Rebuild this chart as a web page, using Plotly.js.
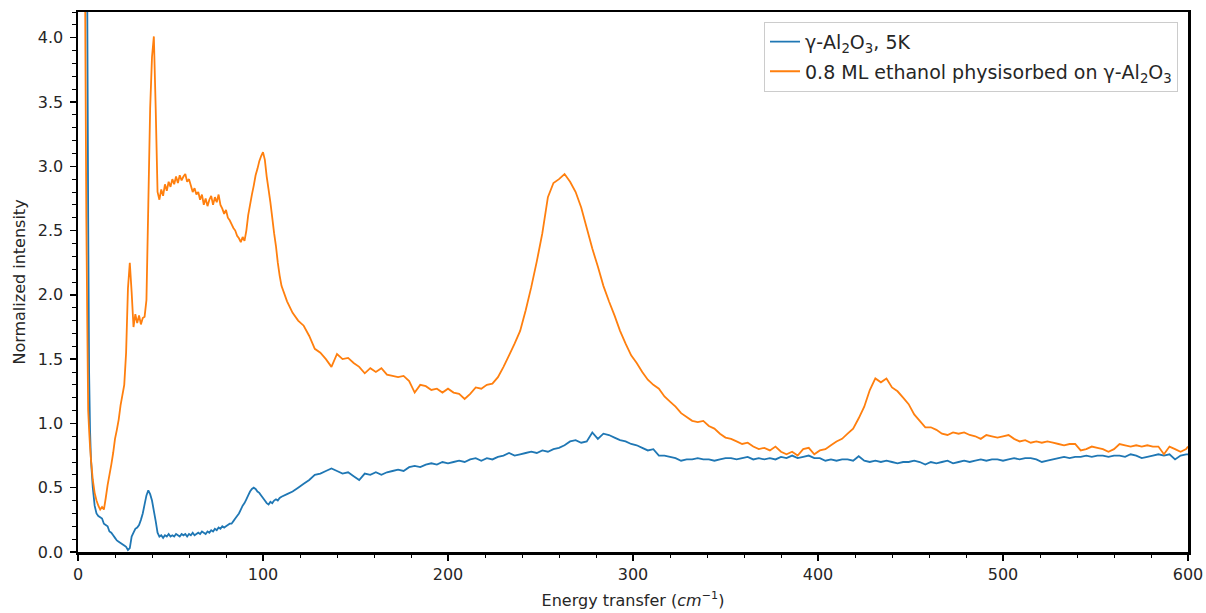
<!DOCTYPE html>
<html>
<head>
<meta charset="utf-8">
<script src="https://cdn.plot.ly/plotly-3.0.1.min.js"></script>
<style>html,body{margin:0;padding:0;background:#fff;}#chart{width:1206px;height:613px;}</style>
</head>
<body>
<div id="chart"></div>
<script>
// Energy transfer grid (cm^-1), shared by both spectra
const energy = [
  2,3,4,4.5,5,5.5,6,6.5,7,8,
  9,10,11,12,13,14,15,16,17,18,
  19,20,21,22,23,24,25,26,27,28,
  29,30,31,32,33,34,35,36,37,38,
  39,40,41,42,43,44,45,46,47,48,
  49,50,51,52,53,54,55,56,57,58,
  59,60,61,62,63,64,65,66,67,68,
  69,70,71,72,73,74,75,76,77,78,
  79,80,81,82,83,84,85,86,87,88,
  89,90,91,92,93,94,95,96,97,98,
  99,100,101,102,103,104,105,106,107,108,
  109,110,
  113,116,119,122,125,128,131,134,137,140,
  143,146,149,152,155,158,161,164,167,170,
  173,176,179,182,185,188,191,194,197,200,
  203,206,209,212,215,218,221,224,227,230,
  233,236,239,242,245,248,251,254,257,260,
  263,266,269,272,275,278,281,284,287,290,
  293,296,299,302,305,308,311,314,317,320,
  323,326,329,332,335,338,341,344,347,350,
  353,356,359,362,365,368,371,374,377,380,
  383,386,389,392,395,398,401,404,407,410,
  413,416,419,422,425,428,431,434,437,440,
  443,446,449,452,455,458,461,464,467,470,
  473,476,479,482,485,488,491,494,497,500,
  503,506,509,512,515,518,521,524,527,530,
  533,536,539,542,545,548,551,554,557,560,
  563,566,569,572,575,578,581,584,587,590,
  593,596,599,600
];

// gamma-Al2O3, 5K
const aluminaIntensity = [
  15,12,8,6,4.3,2.6,1.4,0.95,0.72,0.5,
  0.36,0.30,0.28,0.27,0.26,0.22,0.21,0.20,0.16,0.15,
  0.13,0.11,0.09,0.08,0.07,0.06,0.05,0.04,0.015,0.03,
  0.12,0.15,0.18,0.19,0.21,0.25,0.30,0.37,0.44,0.48,
  0.45,0.40,0.32,0.24,0.15,0.12,0.13,0.11,0.13,0.12,
  0.14,0.12,0.13,0.12,0.14,0.13,0.12,0.14,0.13,0.14,
  0.12,0.14,0.13,0.15,0.13,0.14,0.15,0.14,0.16,0.15,
  0.14,0.16,0.15,0.17,0.16,0.18,0.17,0.19,0.18,0.20,
  0.19,0.20,0.21,0.22,0.22,0.24,0.26,0.28,0.30,0.33,
  0.36,0.38,0.41,0.44,0.47,0.49,0.50,0.49,0.47,0.46,
  0.44,0.42,0.40,0.38,0.37,0.39,0.38,0.40,0.41,0.40,
  0.42,0.43,
  0.45,0.47,0.50,0.53,0.56,0.60,0.61,0.63,0.65,0.63,
  0.61,0.62,0.59,0.56,0.61,0.60,0.62,0.60,0.62,0.63,
  0.64,0.63,0.66,0.67,0.66,0.68,0.69,0.68,0.70,0.69,
  0.70,0.71,0.70,0.72,0.73,0.71,0.73,0.72,0.74,0.75,
  0.77,0.75,0.76,0.77,0.78,0.77,0.79,0.78,0.80,0.81,
  0.83,0.86,0.87,0.85,0.86,0.93,0.88,0.92,0.91,0.89,
  0.87,0.86,0.84,0.83,0.81,0.79,0.80,0.75,0.75,0.74,
  0.73,0.71,0.72,0.72,0.73,0.72,0.72,0.71,0.72,0.73,
  0.73,0.72,0.73,0.74,0.72,0.73,0.72,0.73,0.72,0.74,
  0.73,0.75,0.73,0.74,0.75,0.73,0.73,0.71,0.72,0.71,
  0.72,0.72,0.71,0.745,0.71,0.70,0.71,0.70,0.71,0.70,
  0.69,0.70,0.70,0.71,0.70,0.68,0.70,0.69,0.70,0.71,
  0.69,0.70,0.71,0.70,0.71,0.72,0.71,0.72,0.72,0.71,
  0.72,0.73,0.72,0.73,0.73,0.72,0.70,0.71,0.72,0.73,
  0.74,0.73,0.74,0.74,0.75,0.74,0.75,0.75,0.74,0.75,
  0.75,0.74,0.76,0.75,0.73,0.74,0.75,0.76,0.75,0.76,
  0.72,0.75,0.76,0.76
];

// 0.8 ML ethanol physisorbed on gamma-Al2O3
const ethanolIntensity = [
  12,7,3.9,2.6,1.8,1.1,0.95,0.82,0.72,0.56,
  0.46,0.40,0.36,0.33,0.35,0.33,0.42,0.52,0.60,0.68,
  0.77,0.88,0.95,1.03,1.14,1.22,1.30,1.55,2.05,2.25,
  2.02,1.75,1.85,1.78,1.84,1.77,1.82,1.83,1.96,2.70,
  3.45,3.85,4.01,3.45,2.80,2.74,2.82,2.77,2.86,2.81,
  2.88,2.84,2.90,2.86,2.92,2.87,2.93,2.89,2.92,2.94,
  2.88,2.90,2.85,2.80,2.83,2.78,2.80,2.74,2.78,2.70,
  2.75,2.69,2.74,2.77,2.70,2.76,2.72,2.78,2.70,2.67,
  2.63,2.66,2.60,2.58,2.55,2.52,2.50,2.46,2.44,2.41,
  2.45,2.42,2.50,2.62,2.70,2.78,2.85,2.93,2.98,3.04,
  3.08,3.11,3.05,2.92,2.82,2.72,2.60,2.48,2.38,2.25,
  2.15,2.07,
  1.95,1.86,1.80,1.76,1.68,1.58,1.55,1.50,1.44,1.54,
  1.50,1.51,1.47,1.44,1.39,1.43,1.40,1.43,1.38,1.37,
  1.36,1.37,1.33,1.24,1.30,1.29,1.26,1.27,1.24,1.27,
  1.24,1.23,1.19,1.23,1.28,1.27,1.30,1.31,1.36,1.44,
  1.53,1.62,1.72,1.88,2.06,2.26,2.48,2.76,2.87,2.90,
  2.94,2.88,2.80,2.68,2.52,2.36,2.22,2.07,1.95,1.84,
  1.72,1.62,1.53,1.47,1.40,1.34,1.30,1.27,1.21,1.17,
  1.13,1.08,1.05,1.02,1.01,1.02,0.98,0.96,0.92,0.89,
  0.88,0.86,0.84,0.85,0.82,0.80,0.81,0.79,0.82,0.78,
  0.76,0.78,0.75,0.80,0.81,0.76,0.79,0.80,0.83,0.86,
  0.88,0.92,0.96,1.04,1.13,1.26,1.35,1.32,1.35,1.28,
  1.25,1.20,1.15,1.07,1.02,0.97,0.97,0.95,0.92,0.91,
  0.93,0.92,0.93,0.91,0.90,0.88,0.91,0.90,0.89,0.90,
  0.91,0.88,0.86,0.87,0.85,0.86,0.85,0.86,0.85,0.84,
  0.83,0.84,0.84,0.79,0.80,0.82,0.81,0.80,0.78,0.80,
  0.84,0.83,0.82,0.83,0.82,0.83,0.82,0.82,0.76,0.82,
  0.80,0.78,0.80,0.82
];

const seriesNames = [
  'γ-Al<sub>2</sub>O<sub>3</sub>, 5K',
  '0.8 ML ethanol physisorbed on γ-Al<sub>2</sub>O<sub>3</sub>'
];
const seriesColors = ['#1f77b4', '#ff7f0e'];
const xTitle = 'Energy transfer (<i>cm</i><sup>−1</sup>)';
const yTitle = 'Normalized intensity';

const traces = [aluminaIntensity, ethanolIntensity].map((ys, i) => ({
  type: 'scatter',
  mode: 'lines',
  x: energy,
  y: ys,
  name: seriesNames[i],
  legendgroup: 'g' + i,
  line: {color: seriesColors[i], width: 1.8, simplify: false}
}));

const baseFont = {family: 'DejaVu Sans, sans-serif', size: 16, color: '#262626'};

const layout = {
  width: 1206,
  height: 613,
  margin: {l: 78, r: 18, t: 12, b: 61},
  paper_bgcolor: '#ffffff',
  plot_bgcolor: '#ffffff',
  showlegend: true,
  legend: {
    x: 0.991, xanchor: 'right', y: 0.982, yanchor: 'top',
    bgcolor: 'rgba(255,255,255,0.85)',
    bordercolor: '#cccccc', borderwidth: 1,
    font: {family: 'DejaVu Sans, sans-serif', size: 19, color: '#262626'},
    tracegroupgap: 2
  },
  xaxis: {
    range: [0, 600],
    showgrid: false, zeroline: false,
    showline: true, linecolor: '#000', linewidth: 2.5, mirror: true,
    ticks: 'outside', ticklen: 6, tickwidth: 1.3, tickcolor: '#000',
    dtick: 100, tick0: 0,
    tickfont: baseFont,
    minor: {dtick: 20, ticks: 'outside', ticklen: 3.5, tickwidth: 1, tickcolor: '#000', showgrid: false},
    title: {text: xTitle, font: baseFont, standoff: 12}
  },
  yaxis: {
    range: [0, 4.2],
    showgrid: false, zeroline: false,
    showline: true, linecolor: '#000', linewidth: 2.5, mirror: true,
    ticks: 'outside', ticklen: 6, tickwidth: 1.3, tickcolor: '#000',
    dtick: 0.5, tick0: 0, tickformat: '.1f',
    tickfont: baseFont,
    ticklabelstandoff: 3,
    minor: {dtick: 0.1, ticks: 'outside', ticklen: 3.5, tickwidth: 1, tickcolor: '#000', showgrid: false},
    title: {text: yTitle, font: baseFont, standoff: 8}
  }
};

Plotly.newPlot('chart', traces, layout, {staticPlot: true, displayModeBar: false});
</script>
</body>
</html>
